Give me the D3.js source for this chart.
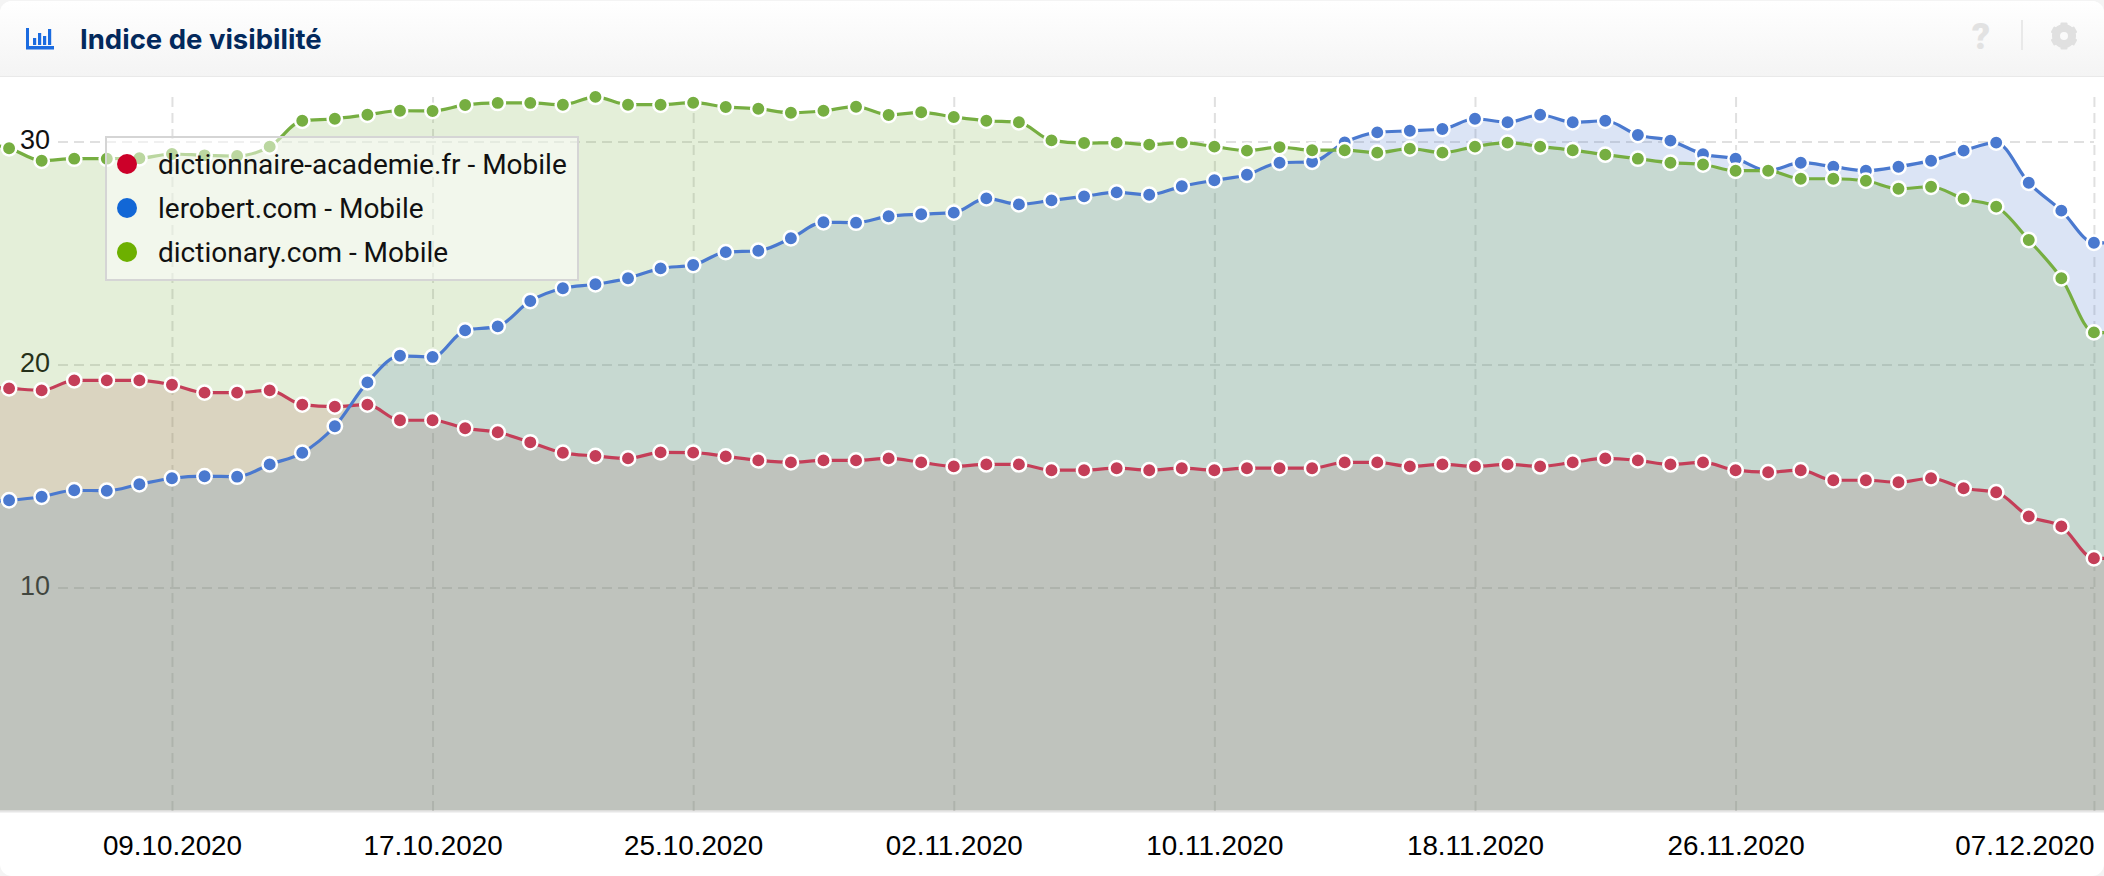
<!DOCTYPE html>
<html>
<head>
<meta charset="utf-8">
<script src="https://cdn.jsdelivr.net/npm/d3@7"></script>
<style>
  html, body { margin: 0; padding: 0; background: #f4f4f4; overflow: hidden; }
  svg { display: block; }
  .axis path { display: none; }
  .grid-line { stroke: #e0e0e0; stroke-width: 2; stroke-dasharray: 10 6; }
</style>
</head>
<body>
<div id="chart-container"></div>
<script>
// Days of the chart (the first and last one are cut off by the plot edge)
var days = [
  '03.10.2020','04.10.2020','05.10.2020','06.10.2020','07.10.2020','08.10.2020','09.10.2020','10.10.2020','11.10.2020','12.10.2020',
  '13.10.2020','14.10.2020','15.10.2020','16.10.2020','17.10.2020','18.10.2020','19.10.2020','20.10.2020','21.10.2020','22.10.2020',
  '23.10.2020','24.10.2020','25.10.2020','26.10.2020','27.10.2020','28.10.2020','29.10.2020','30.10.2020','31.10.2020','01.11.2020',
  '02.11.2020','03.11.2020','04.11.2020','05.11.2020','06.11.2020','07.11.2020','08.11.2020','09.11.2020','10.11.2020','11.11.2020',
  '12.11.2020','13.11.2020','14.11.2020','15.11.2020','16.11.2020','17.11.2020','18.11.2020','19.11.2020','20.11.2020','21.11.2020',
  '22.11.2020','23.11.2020','24.11.2020','25.11.2020','26.11.2020','27.11.2020','28.11.2020','29.11.2020','30.11.2020','01.12.2020',
  '02.12.2020','03.12.2020','04.12.2020','05.12.2020','06.12.2020','07.12.2020','08.12.2020'
];

var academieValues = [
  18.99,18.93,18.84,19.29,19.29,19.29,19.09,18.74,18.74,18.84,
  18.20,18.11,18.20,17.50,17.50,17.14,16.96,16.51,16.04,15.90,
  15.79,16.06,16.05,15.88,15.70,15.61,15.70,15.70,15.79,15.61,
  15.43,15.52,15.52,15.26,15.26,15.35,15.26,15.35,15.26,15.35,
  15.35,15.35,15.61,15.61,15.43,15.52,15.43,15.52,15.43,15.61,
  15.79,15.70,15.52,15.61,15.26,15.17,15.26,14.81,14.81,14.72,
  14.90,14.45,14.27,13.19,12.74,11.31,11.30
];

var lerobertValues = [
  13.83,13.91,14.07,14.36,14.34,14.63,14.90,14.99,14.97,15.52,
  16.04,17.23,19.20,20.39,20.34,21.53,21.71,22.85,23.42,23.60,
  23.87,24.31,24.46,25.04,25.10,25.66,26.38,26.36,26.65,26.74,
  26.81,27.45,27.18,27.36,27.54,27.72,27.61,27.99,28.26,28.51,
  29.05,29.09,29.96,30.41,30.48,30.56,31.02,30.86,31.20,30.86,
  30.93,30.29,30.04,29.43,29.23,28.69,29.05,28.87,28.69,28.87,
  29.14,29.59,29.95,28.15,26.90,25.46,25.45
];

var dictionaryValues = [
  29.93,29.70,29.14,29.23,29.23,29.25,29.44,29.38,29.35,29.77,
  30.93,31.02,31.20,31.38,31.37,31.64,31.73,31.73,31.65,32.00,
  31.65,31.65,31.74,31.55,31.47,31.29,31.38,31.56,31.19,31.31,
  31.10,30.93,30.86,30.05,29.93,29.95,29.86,29.95,29.77,29.59,
  29.75,29.61,29.61,29.50,29.68,29.50,29.77,29.95,29.77,29.61,
  29.41,29.23,29.05,28.97,28.69,28.69,28.33,28.33,28.24,27.88,
  27.97,27.43,27.08,25.58,23.87,21.44,21.41
];

var xTickLabels = ['09.10.2020','17.10.2020','25.10.2020','02.11.2020','10.11.2020','18.11.2020','26.11.2020','07.12.2020'];
var yTicks = [10, 20, 30];

var seriesNames = ['dictionnaire-academie.fr - Mobile', 'lerobert.com - Mobile', 'dictionary.com - Mobile'];
var seriesValues = [academieValues, lerobertValues, dictionaryValues];
var lineColors = ['#c43e58', '#4a79cf', '#76ae41'];
var legendColors = ['#cc0029', '#1267d6', '#6db000'];
var areaColors = ['#bc4a54', '#4a79cf', '#76ae41'];
var areaOpacity = [0.18, 0.2, 0.2];

var width = 2104, height = 876;
var plotTop = 77, plotBottom = 811, gridRight = 2094, gridLeft = 58;

var parseDay = d3.utcParse('%d.%m.%Y');
var dates = days.map(parseDay);

var x = d3.scaleUtc()
  .domain([dates[0], dates[dates.length - 1]])
  .range([-23.5, 2126.5]);

var y = d3.scaleLinear()
  .domain([0, 30])
  .range([810.5, 141.5]);

var svg = d3.select('#chart-container').append('svg')
  .attr('width', width)
  .attr('height', height);

// Card with rounded corners
svg.append('rect')
  .attr('y', 1)
  .attr('width', width)
  .attr('height', height - 1)
  .attr('rx', 12)
  .attr('fill', '#fff');

// Header
var gradient = svg.append('defs').append('linearGradient')
  .attr('id', 'header-bg')
  .attr('x1', 0).attr('x2', 0).attr('y1', 0).attr('y2', 1);
gradient.append('stop').attr('offset', '0%').attr('stop-color', '#ffffff');
gradient.append('stop').attr('offset', '100%').attr('stop-color', '#f4f4f4');

svg.select('defs').append('clipPath').attr('id', 'plot-clip')
  .append('rect')
  .attr('x', 0).attr('y', plotTop)
  .attr('width', width).attr('height', plotBottom - plotTop);

svg.append('path')
  .attr('d', 'M0,76V13A12,12 0 0 1 12,1H2092A12,12 0 0 1 2104,13V76Z')
  .attr('fill', 'url(#header-bg)');
svg.append('rect').attr('y', 76).attr('width', width).attr('height', 1).attr('fill', '#e9e9e9');

// Chart icon in the header
var icon = svg.append('g').attr('fill', '#1a6be0');
icon.append('rect').attr('x', 26).attr('y', 28).attr('width', 3).attr('height', 21);
icon.append('rect').attr('x', 26).attr('y', 46).attr('width', 28).attr('height', 3.5);
[[33, 38, 4], [38, 33, 9], [43, 36, 6], [48, 29, 13]].forEach(function (b) {
  icon.append('rect').attr('x', b[0]).attr('y', b[1]).attr('width', 3.2).attr('height', b[2] + 3);
});

svg.append('text')
  .attr('x', 80)
  .attr('y', 49)
  .attr('font-family', 'Inter')
  .attr('font-weight', 700)
  .attr('font-size', 27.5)
  .attr('fill', '#03295c')
  .text('Indice de visibilité');

svg.append('text')
  .attr('x', 1981)
  .attr('y', 49)
  .attr('text-anchor', 'middle')
  .attr('font-family', 'Roboto')
  .attr('font-weight', 900)
  .attr('font-size', 36)
  .attr('fill', '#e2e2e2')
  .text('?');
svg.append('rect').attr('x', 2021).attr('y', 20).attr('width', 2).attr('height', 30).attr('fill', '#e9e9e9');

// Gear icon
var gear = svg.append('g').attr('transform', 'translate(2064,36)');
gear.append('circle').attr('r', 8).attr('fill', 'none').attr('stroke', '#e0e0e0').attr('stroke-width', 8);
d3.range(6).forEach(function (i) {
  gear.append('rect')
    .attr('x', -3.5).attr('y', -13.5).attr('width', 7).attr('height', 6).attr('rx', 1)
    .attr('fill', '#e0e0e0')
    .attr('transform', 'rotate(' + (i * 60) + ')');
});

// Vertical grid lines and date labels
var xAxis = d3.axisBottom(x)
  .tickValues(xTickLabels.map(parseDay))
  .tickFormat(d3.utcFormat('%d.%m.%Y'))
  .tickSize(0)
  .tickPadding(0);

var xGrid = svg.append('g').attr('class', 'axis')
  .attr('transform', 'translate(0,' + plotBottom + ')')
  .call(xAxis);

xGrid.selectAll('.tick line')
  .attr('class', 'grid-line')
  .attr('y1', 0)
  .attr('y2', 97 - plotBottom);

xGrid.selectAll('.tick text')
  .attr('y', 44)
  .attr('dy', 0)
  .attr('font-family', '"Liberation Sans"')
  .attr('font-size', 27.8)
  .attr('fill', '#000')
  .filter(function (d, i) { return i === xTickLabels.length - 1; })
  .attr('text-anchor', 'end');

// Horizontal grid lines and value labels
var yAxis = d3.axisLeft(y)
  .tickValues(yTicks)
  .tickSize(-(gridRight - gridLeft))
  .tickPadding(8);

var yGrid = svg.append('g').attr('class', 'axis')
  .attr('transform', 'translate(' + gridLeft + ',0)')
  .call(yAxis);

yGrid.selectAll('.tick line').attr('class', 'grid-line');
yGrid.selectAll('.tick text')
  .attr('x', -8)
  .attr('dy', '0.26em')
  .attr('font-family', '"Liberation Sans"')
  .attr('font-size', 27)
  .attr('fill', '#111');

// Series: all areas first, then lines and points on top
var plot = svg.append('g').attr('clip-path', 'url(#plot-clip)');
var areaLayer = plot.append('g');
var lineLayer = plot.append('g');

var area = d3.area()
  .x(function (d) { return x(d.date); })
  .y0(y(0))
  .y1(function (d) { return y(d.value); })
  .curve(d3.curveMonotoneX);

var line = d3.line()
  .x(function (d) { return x(d.date); })
  .y(function (d) { return y(d.value); })
  .curve(d3.curveMonotoneX);

seriesValues.forEach(function (values, s) {
  var points = values.map(function (v, i) { return { date: dates[i], value: v }; });

  areaLayer.append('path')
    .datum(points)
    .attr('d', area)
    .attr('fill', areaColors[s])
    .attr('fill-opacity', areaOpacity[s]);

  var group = lineLayer.append('g');

  group.append('path')
    .datum(points)
    .attr('d', line)
    .attr('fill', 'none')
    .attr('stroke', lineColors[s])
    .attr('stroke-width', 3.2);

  group.selectAll('circle')
    .data(points)
    .enter().append('circle')
    .attr('cx', function (d) { return x(d.date); })
    .attr('cy', function (d) { return y(d.value); })
    .attr('r', 7.2)
    .attr('fill', lineColors[s])
    .attr('stroke', '#fff')
    .attr('stroke-width', 2.5);
});

svg.append('rect').attr('y', plotBottom).attr('width', width).attr('height', 1.5).attr('fill', '#e6e6e6');

// Legend box on top of the chart
var legend = svg.append('g');
legend.append('rect')
  .attr('x', 106).attr('y', 137)
  .attr('width', 472).attr('height', 143)
  .attr('fill', '#fff')
  .attr('fill-opacity', 0.5)
  .attr('stroke', '#d5d5d5')
  .attr('stroke-width', 2);

seriesNames.forEach(function (name, i) {
  var rowY = 164 + i * 44;
  legend.append('circle')
    .attr('cx', 127).attr('cy', rowY).attr('r', 10)
    .attr('fill', legendColors[i]);
  legend.append('text')
    .attr('x', 158).attr('y', rowY + 9.5)
    .attr('font-family', 'Roboto')
    .attr('font-size', 28)
    .attr('fill', '#111')
    .text(name);
});
</script>
</body>
</html>
